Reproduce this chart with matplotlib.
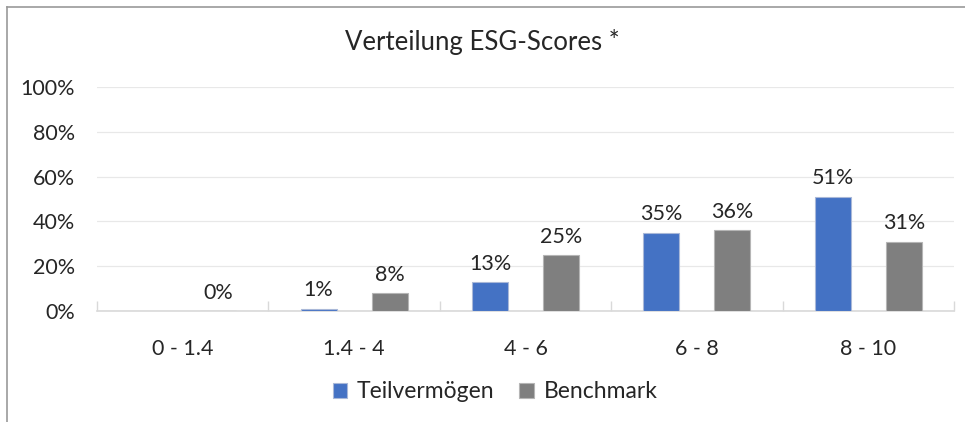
import numpy as np
import matplotlib
matplotlib.use('Agg')
import matplotlib.pyplot as plt
from matplotlib.lines import Line2D

categories = ['0 - 1.4', '1.4 - 4', '4 - 6', '6 - 8', '8 - 10']
teilvermoegen = [None, 1, 13, 35, 51]   # first value shows no bar / no label
benchmark = [0, 8, 25, 36, 31]
series_names = ['Teilvermögen', 'Benchmark']
title = 'Verteilung ESG-Scores *'

plt.rcParams['font.family'] = ['Lato', 'DejaVu Sans']

fig = plt.figure(figsize=(9.65, 4.22), dpi=100)
ax = fig.add_axes([97/965, 1-311/422, (954-97)/965, (311-87)/422])

# outer chart border: only top and left edges visible in the crop
fig.lines.append(Line2D([6.5/965, 1], [1-6.5/422, 1-6.5/422], transform=fig.transFigure,
                        color='#9a9a9a', linewidth=1.2))
fig.lines.append(Line2D([6.5/965, 6.5/965], [0, 1-6.5/422], transform=fig.transFigure,
                        color='#9a9a9a', linewidth=1.2))

x = np.arange(len(categories))
w = 0.21
off = 0.207
tv = np.array([np.nan if v is None else v for v in teilvermoegen], dtype=float)
bm = np.array(benchmark, dtype=float)

b1 = ax.bar(x - off, tv, w, color='#4472C4', edgecolor='#a9b8d8', linewidth=0.8,
            label=series_names[0], zorder=3)
b2 = ax.bar(x + off, bm, w, color='#7F7F7F', edgecolor='#b5b5b5', linewidth=0.8,
            label=series_names[1], zorder=3)

for bars, vals in ((b1, tv), (b2, bm)):
    for rect, v in zip(bars, vals):
        if np.isnan(v):
            continue
        ax.annotate(f'{v:.0f}%', (rect.get_x() + rect.get_width()/2, v),
                    xytext=(0, 6), textcoords='offset points',
                    ha='center', va='bottom', fontsize=15.5, color='#262626')

ax.set_xlim(-0.5, len(categories) - 0.5)
ax.set_ylim(0, 100)
ax.set_yticks(np.arange(0, 101, 20))
ax.set_yticklabels([f'{t}%' for t in range(0, 101, 20)])
ax.set_xticks(x)
ax.set_xticklabels(categories)
ax.set_xticks(np.arange(-0.5, len(categories), 1), minor=True)
ax.tick_params(axis='x', which='major', length=0, pad=20, labelsize=15.5, labelcolor='#262626')
ax.tick_params(axis='x', which='minor', length=7, direction='in', color='#d9d9d9', width=1)
ax.tick_params(axis='y', length=0, pad=16, labelsize=15.5, labelcolor='#262626')

ax.grid(axis='y', color='#e8e8e8', linewidth=0.9, zorder=0)
for s in ('top', 'right', 'left'):
    ax.spines[s].set_visible(False)
ax.spines['bottom'].set_color('#d9d9d9')
ax.spines['bottom'].set_linewidth(1.2)

fig.text(0.5, 1-42/422, title, ha='center', va='center', fontsize=18.5, color='#262626')

fig.legend(loc='center', bbox_to_anchor=(495/965, 1-392/422), ncol=2, frameon=False,
           fontsize=16.5, handlelength=0.65, handleheight=0.65, handletextpad=0.4,
           columnspacing=1.1, labelcolor='#262626')

fig.savefig('out.png', dpi=100)
